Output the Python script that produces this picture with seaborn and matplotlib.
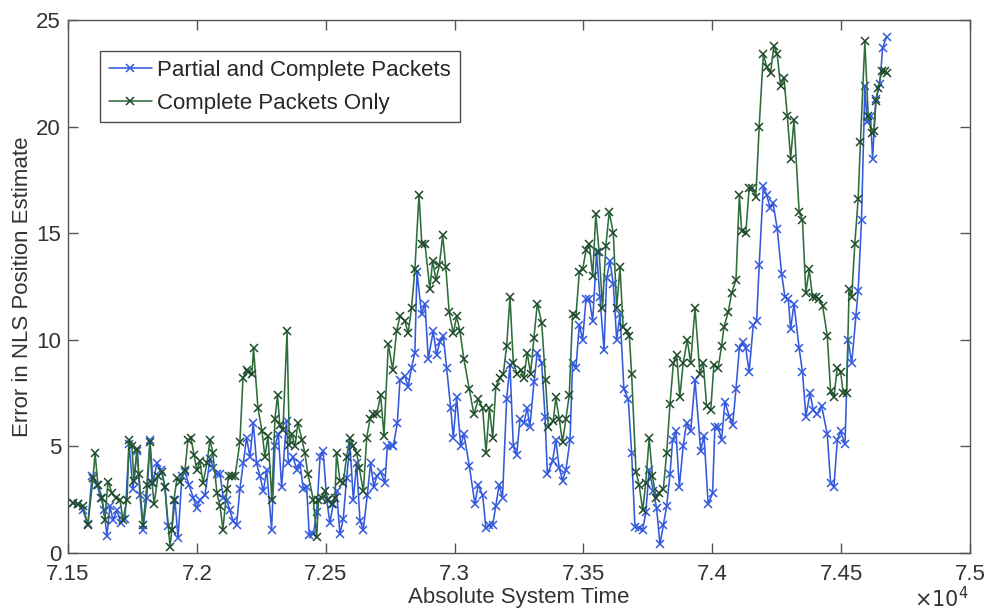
import matplotlib
matplotlib.use("Agg")
import matplotlib.pyplot as plt
import seaborn as sns
import pandas as pd
from matplotlib.ticker import FixedLocator, FixedFormatter

# ---- data ----
time_partial = [71519, 71539, 71558, 71577, 71593, 71612, 71628, 71640, 71651, 71663, 71674, 71690,
                71705, 71721, 71737, 71752, 71768, 71779, 71791, 71806, 71818, 71830, 71845, 71861,
                71876, 71888, 71903, 71915, 71927, 71942, 71954, 71969,
                71986, 71999, 72012, 72031, 72051, 72064, 72077, 72090, 72102, 72116, 72128, 72141,
                72154, 72167, 72180, 72193, 72206, 72219, 72232, 72245, 72258, 72271, 72290, 72303,
                72316, 72329, 72348, 72355, 72374, 72387, 72400, 72413, 72426, 72436,
                72452, 72465, 72478, 72490, 72504, 72516, 72529, 72542, 72555, 72568, 72581, 72594,
                72607, 72620, 72633, 72646, 72661, 72674, 72687, 72698, 72713, 72730, 72739, 72756,
                72762, 72778, 72788, 72807, 72820, 72833, 72846, 72854, 72872, 72885, 72898,
                72917, 72930, 72943, 72956, 72969, 72985, 72995, 73008, 73024, 73036, 73057, 73079,
                73092, 73109, 73122, 73135, 73148, 73160, 73173, 73186, 73202, 73215, 73228, 73241,
                73254, 73269, 73282, 73292, 73308, 73321, 73338, 73351, 73360,
                73380, 73393, 73406, 73419, 73432, 73448, 73458, 73471, 73484, 73497, 73510, 73523,
                73536, 73551, 73564, 73580, 73590, 73603, 73616, 73629, 73642, 73657, 73674, 73687,
                73700, 73717, 73730, 73742, 73755, 73771, 73784, 73797, 73810, 73823, 73836,
                73846, 73859, 73872, 73887, 73900, 73916, 73933, 73955, 73968, 73984, 74001, 74010,
                74023, 74036, 74049, 74066, 74079, 74092, 74105, 74118, 74130, 74143, 74159, 74172,
                74182, 74198, 74211, 74224, 74236, 74252, 74269, 74282, 74295, 74304, 74317,
                74337, 74350, 74363, 74379, 74392, 74407, 74424, 74446, 74459, 74472, 74485, 74498,
                74515, 74527, 74541, 74557, 74566, 74579, 74592, 74601, 74614, 74622, 74635, 74650,
                74661, 74676]
err_partial = [2.35, 2.3, 2.0, 1.35, 3.6, 3.2, 2.6, 2.0, 0.8, 2.2, 1.55, 2.0,
               1.4, 1.6, 5.1, 3.0, 4.8, 2.7, 1.1, 2.6, 5.3, 3.3, 4.2, 3.9,
               3.1, 1.25, 1.1, 2.5, 0.7, 3.6, 3.8, 3.2,
               2.6, 2.1, 2.5, 2.7, 4.4, 4.0, 3.7, 3.7, 2.6, 2.5, 2.0, 1.5,
               1.3, 3.0, 4.2, 5.4, 4.5, 6.1, 4.2, 3.6, 2.9, 3.9, 1.1, 5.0,
               5.6, 3.1, 6.2, 4.2, 4.5, 3.9, 4.2, 3.0, 3.1, 0.85,
               0.9, 1.9, 4.5, 4.8, 2.5, 1.4, 2.3, 2.9, 0.9, 1.6, 3.5, 5.1,
               2.5, 4.2, 1.5, 1.1, 2.7, 4.2, 3.1, 3.6, 3.8, 3.3, 5.0, 5.05,
               5.0, 6.1, 8.1, 8.3, 7.8, 8.7, 9.4, 13.2, 11.2, 11.7, 9.1,
               10.4, 9.3, 9.9, 10.2, 8.7, 6.8, 5.4, 7.3, 5.0, 5.6, 4.1, 2.3,
               3.2, 2.7, 1.15, 1.3, 1.3, 2.2, 3.2, 2.6, 7.2, 8.8, 5.0, 4.6,
               6.3, 6.1, 6.8, 5.9, 8.0, 9.4, 8.9, 6.4, 3.7,
               4.3, 5.3, 4.0, 3.4, 3.9, 5.3, 8.9, 8.7, 10.7, 10.0, 11.9, 11.9,
               10.9, 14.1, 12.0, 9.5, 12.9, 13.7, 12.6, 10.0, 11.2, 7.7, 7.2, 4.7,
               1.2, 1.15, 1.1, 1.9, 3.9, 2.9, 2.1, 0.4, 1.3, 2.2, 3.7,
               5.3, 5.7, 3.1, 5.0, 6.1, 5.7, 8.1, 4.8, 5.5, 2.3, 2.8, 5.9,
               5.9, 5.3, 7.1, 6.4, 6.0, 7.7, 9.6, 9.9, 9.6, 8.5, 10.7, 10.9,
               13.5, 17.2, 16.8, 16.2, 16.4, 15.2, 13.1, 12.0, 11.9, 10.5, 11.7,
               9.6, 8.5, 6.4, 7.5, 6.7, 6.5, 6.9, 5.6, 3.3, 3.1, 5.3, 5.7,
               5.1, 10.0, 8.9, 11.1, 12.3, 15.6, 21.9, 20.2, 20.5, 18.5, 21.3, 22.0,
               23.7, 24.2]

time_complete = [71519, 71539, 71558, 71577, 71597, 71605, 71616, 71632, 71643, 71655, 71671, 71686,
                 71702, 71713, 71729, 71737, 71748, 71756, 71768, 71775, 71791, 71806, 71818, 71826,
                 71834, 71849, 71865, 71876, 71896, 71903, 71911, 71923, 71934, 71954, 71965, 71977,
                 71989,
                 72000, 72012, 72024, 72039, 72051, 72062, 72078, 72090, 72101, 72117, 72123, 72136,
                 72148, 72167, 72179, 72194, 72200, 72214, 72220, 72237, 72253, 72264, 72276, 72291,
                 72303, 72313, 72322, 72334, 72350, 72359, 72369, 72381, 72392, 72408, 72419, 72431,
                 72452, 72465, 72472, 72484, 72497, 72510, 72523, 72536, 72542, 72555, 72568, 72581,
                 72594, 72607, 72620, 72630, 72646, 72659, 72672, 72684, 72698, 72713, 72726, 72743,
                 72760, 72775, 72788, 72807, 72820, 72833, 72846, 72862, 72873, 72885,
                 72904, 72915, 72928, 72941, 72954, 72966, 72979, 72995, 73008, 73021, 73036, 73057,
                 73075, 73092, 73109, 73122, 73135, 73148, 73160, 73176, 73189, 73202, 73215, 73228,
                 73243, 73256, 73269, 73282, 73295, 73308, 73321, 73338, 73353, 73364,
                 73383, 73393, 73406, 73419, 73432, 73445, 73458, 73471, 73484, 73497, 73510, 73523,
                 73536, 73548, 73561, 73574, 73587, 73600, 73616, 73629, 73642, 73654, 73668, 73678,
                 73687, 73704, 73716, 73730, 73742, 73755, 73768, 73781, 73794, 73810, 73823, 73836,
                 73849, 73862, 73874, 73887, 73903, 73916, 73933, 73952, 73965, 73978, 73994, 74006,
                 74023, 74036, 74045, 74062, 74075, 74092, 74105, 74114, 74130, 74143, 74156, 74169,
                 74182, 74198, 74211, 74226, 74239, 74252, 74265, 74278, 74291, 74304, 74317,
                 74337, 74350, 74363, 74376, 74389, 74402, 74415, 74428, 74446, 74459, 74472, 74485,
                 74498, 74508, 74521, 74531, 74541, 74553, 74566, 74575, 74592, 74605, 74618, 74627,
                 74635, 74644, 74657, 74670, 74679]
err_complete = [2.35, 2.3, 2.2, 1.3, 3.5, 4.7, 3.2, 2.6, 1.55, 3.35, 2.8, 2.6,
                2.5, 1.55, 2.5, 5.3, 5.0, 3.4, 4.9, 3.7, 1.3, 3.2, 5.2, 3.3,
                2.3, 3.6, 3.8, 3.1, 0.3, 1.1, 2.5, 3.5, 3.35, 3.9, 5.3, 5.4,
                4.6,
                3.9, 4.3, 3.3, 4.2, 5.3, 4.7, 2.8, 2.2, 1.1, 3.0, 3.6, 3.6,
                3.6, 5.2, 8.2, 8.6, 8.5, 8.4, 9.6, 6.8, 5.7, 4.5, 5.5, 2.5,
                6.3, 7.4, 6.0, 5.75, 10.4, 5.05, 5.6, 5.0, 6.1, 5.3, 4.7, 3.7,
                2.5, 0.75, 2.5, 2.6, 2.9, 2.5, 2.3, 2.6, 4.7, 3.4, 3.3, 4.5,
                5.4, 5.0, 4.7, 4.0, 2.9, 5.4, 6.3, 6.5, 6.5, 7.4, 5.5, 9.8,
                8.6, 10.4, 11.1, 10.9, 10.3, 11.5, 13.3, 16.8, 14.5, 14.5,
                12.4, 13.7, 12.8, 13.5, 14.9, 13.4, 11.3, 10.3, 11.1, 10.4, 9.1, 7.7,
                6.5, 7.2, 6.8, 4.7, 6.8, 5.4, 7.8, 8.2, 8.4, 9.7, 12.0, 8.9,
                8.4, 8.6, 8.2, 9.4, 8.4, 10.1, 11.7, 10.8, 8.1, 5.9,
                6.2, 7.3, 6.3, 5.2, 6.3, 7.4, 11.2, 11.1, 13.2, 13.3, 14.2, 14.5,
                13.0, 15.9, 14.1, 11.5, 14.4, 16.0, 15.0, 11.5, 13.4, 10.6, 10.4, 10.2,
                8.4, 3.8, 3.2, 2.0, 3.3, 5.4, 3.6, 2.6, 2.8, 3.0, 4.7, 7.0,
                8.9, 9.3, 7.3, 8.9, 10.0, 8.9, 11.5, 8.4, 8.9, 6.9, 6.7, 8.8,
                8.7, 9.7, 10.6, 11.3, 12.2, 12.8, 16.8, 15.1, 15.0, 17.1, 17.1, 16.7,
                20.0, 23.4, 22.8, 22.5, 23.8, 23.4, 21.9, 22.3, 20.5, 18.5, 20.3,
                16.0, 15.6, 12.2, 13.3, 12.0, 12.0, 11.9, 11.6, 10.2, 7.6, 7.3, 8.7,
                8.5, 7.5, 7.5, 12.4, 12.0, 14.5, 16.6, 19.3, 24.0, 20.5, 19.7, 19.8,
                21.2, 21.8, 22.6, 22.6, 22.5]

series_names = ["Partial and Complete Packets", "Complete Packets Only"]
xtick_values = [71500, 72000, 72500, 73000, 73500, 74000, 74500, 75000]
xtick_labels = ["7.15", "7.2", "7.25", "7.3", "7.35", "7.4", "7.45", "7.5"]
ytick_values = [0, 5, 10, 15, 20, 25]

# ---- styling ----
sns.set_theme(style="white")
plt.rcParams["font.family"] = ["Liberation Sans", "DejaVu Sans"]

BLUE = "#3359dc"
GREEN = "#2e6d3c"
GREEN_MARK = "#1e4a2a"

fig = plt.figure(figsize=(9.92, 6.10), dpi=100)
ax = fig.add_axes([68 / 992, 1 - 553 / 610, 902 / 992, 533 / 610])

df_p = pd.DataFrame({"t": time_partial, "err": err_partial})
df_c = pd.DataFrame({"t": time_complete, "err": err_complete})

sns.lineplot(data=df_p, x="t", y="err", ax=ax, color=BLUE, linewidth=1.15,
             marker="x", markersize=5.5, markeredgewidth=1.1, markeredgecolor=BLUE,
             sort=False, errorbar=None, label=series_names[0])
sns.lineplot(data=df_c, x="t", y="err", ax=ax, color=GREEN, linewidth=1.15,
             marker="x", markersize=5.5, markeredgewidth=1.1, markeredgecolor=GREEN_MARK,
             sort=False, errorbar=None, label=series_names[1])

ax.set_xlim(71500, 75000)
ax.set_ylim(0, 25)
ax.xaxis.set_major_locator(FixedLocator(xtick_values))
ax.xaxis.set_major_formatter(FixedFormatter(xtick_labels))
ax.set_yticks(ytick_values)

for side in ["top", "right", "bottom", "left"]:
    ax.spines[side].set_visible(True)
    ax.spines[side].set_color("#555555")
    ax.spines[side].set_linewidth(1.0)

ax.tick_params(axis="both", which="major", direction="in", length=7, width=1.0,
               color="#555555", labelsize=16, labelcolor="#333333",
               top=True, right=True, bottom=True, left=True)
ax.tick_params(axis="x", pad=8)
ax.tick_params(axis="y", pad=5)

ax.set_xlabel("Absolute System Time", fontsize=16, color="#333333", labelpad=1.5)
ax.set_ylabel("Error in NLS Position Estimate", fontsize=16, color="#333333", labelpad=2)

ax.text(0.999, -0.085, r"$\times10^{4}$", transform=ax.transAxes, ha="right", va="center",
        fontsize=15, color="#333333")

leg = ax.legend(loc="upper left", bbox_to_anchor=(0.036, 0.942), borderaxespad=0,
                fontsize=16, frameon=True, fancybox=False, edgecolor="#222222",
                handlelength=1.9, handletextpad=0.25, borderpad=0.4, labelspacing=0.53)
leg.get_frame().set_linewidth(1.0)

fig.savefig("out.png", dpi=100)
